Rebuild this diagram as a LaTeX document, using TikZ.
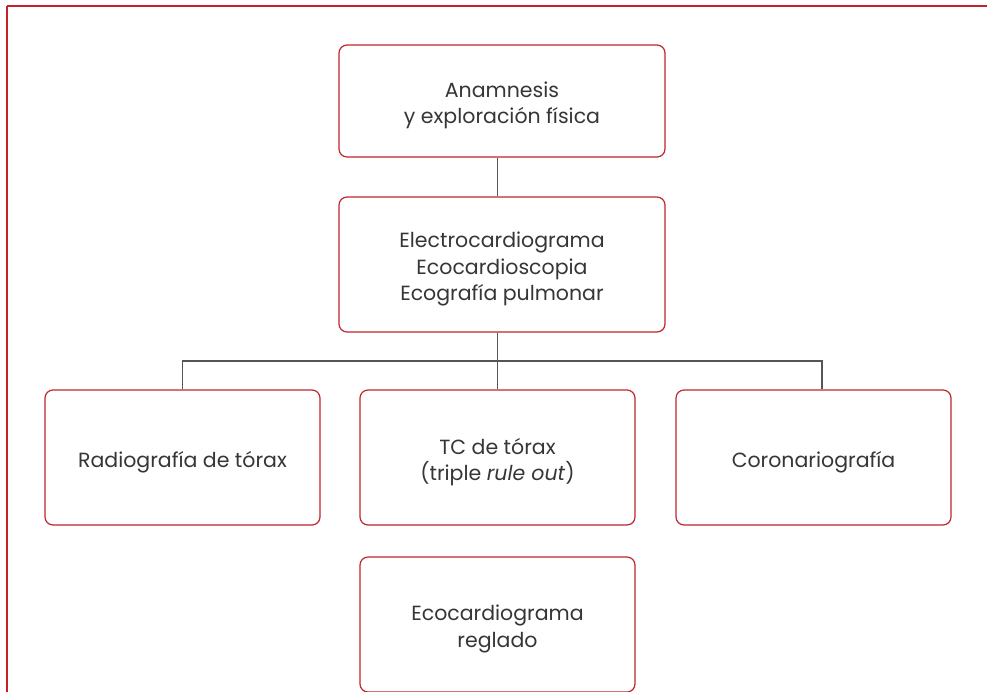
\documentclass[tikz,border=0pt]{standalone}
\usepackage{fontspec}
\setmainfont{Poppins}
\definecolor{framered}{HTML}{C8202B}
\definecolor{boxred}{HTML}{C0262D}
\definecolor{linegray}{HTML}{555555}
\definecolor{txtgray}{HTML}{363636}
\begin{document}
\begin{tikzpicture}[x=1pt,y=-1pt,
  box/.style={draw=boxred,line width=1.2pt,rounded corners=8pt,fill=white,
    minimum width=#1,inner sep=0pt},
  txt/.style={align=center,text=txtgray,inner sep=0pt,yshift=-4.5pt,
    font=\fontsize{20.5}{26.5}\selectfont},
  conn/.style={draw=linegray,line width=1.3pt}]
\useasboundingbox (0,0) rectangle (987,691);
\draw[framered,line width=1.5pt] (7,6) -- (1000,6) (7,6) -- (7,700);
\node[box=326pt,minimum height=112pt,label={[txt]center:{Anamnesis\\y exploración física}}] (b1) at (502,101) {};
\node[box=326pt,minimum height=135pt,label={[txt]center:{Electrocardiograma\\Ecocardioscopia\\Ecografía pulmonar}}] (b2) at (502,264.5) {};
\node[box=275pt,minimum height=135pt,label={[txt]center:{Radiografía de tórax}}] (left) at (182.5,457.5) {};
\node[box=275pt,minimum height=135pt,label={[txt]center:{TC de tórax\\(triple \textit{rule out})}}] (mid) at (497.5,457.5) {};
\node[box=275pt,minimum height=135pt,label={[txt]center:{Coronariografía}}] (right) at (813.5,457.5) {};
\node[box=275pt,minimum height=135pt,label={[txt]center:{Ecocardiograma\\reglado}}] (bot) at (497.5,624.5) {};
\coordinate (hl) at (182.5,361);
\coordinate (hr) at (822,361);
\draw[conn] (b1.south -| mid.north) -- (b2.north -| mid.north);
\draw[conn] (b2.south -| mid.north) -- (mid.north);
\draw[conn] (left.north) -- (hl) -- (hr) -- (hr |- right.north);
\end{tikzpicture}
\end{document}
